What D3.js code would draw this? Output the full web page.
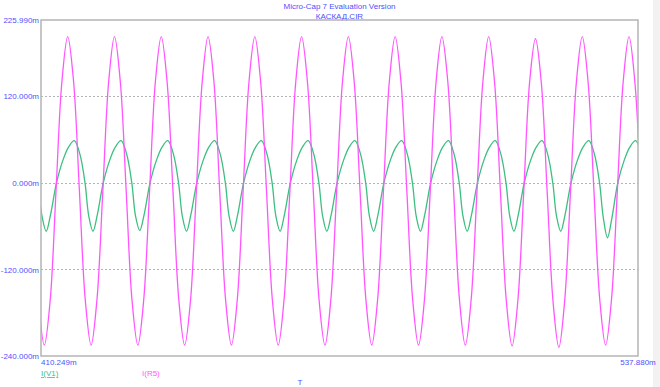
<!DOCTYPE html>
<html>
<head>
<meta charset="utf-8">
<script src="https://cdn.jsdelivr.net/npm/d3@7"></script>
<style>
  body { margin: 0; background: #fff; }
  text { font-family: "Liberation Sans", Arial, sans-serif; }
</style>
</head>
<body>
<svg id="chart" width="660" height="387"></svg>
<script>
// title lines
var titles = ["Micro-Cap 7 Evaluation Version", "КАСКАД.CIR"];

// x range (ms) and y ticks (mA)
var timeRange = [410.249, 537.880];
var yTicks = [-240, -120, 0, 120, 225.99];
var gridValues = [-120, 0, 120];

// I(R5): samples every 1.25 ms starting at 409.71 ms
var r5Start = 409.71;
var r5Step = 1.25;
var r5Values = [
  -162, -225, -163, -11, 140, 203, 141, -11,
  -162, -225, -162, -12, 140, 203, 140, -11,
  -163, -225, -162, -11, 141, 203, 140, -11,
  -162, -225, -163, -11, 140, 203, 141, -12,
  -162, -225, -162, -11, 140, 203, 140, -11,
  -162, -225, -162, -11, 140, 203, 140, -11,
  -163, -225, -162, -11, 141, 203, 140, -11,
  -162, -225, -162, -11, 140, 203, 140, -11,
  -162, -225, -163, -12, 140, 203, 141, -11,
  -162, -225, -162, -11, 140, 203, 140, -11,
  -162, -226, -162, -11, 140, 200, 139, -12,
  -164, -228, -163, -11, 140, 203, 140, -11,
  -162, -225, -162, -11, 140, 203, 140, -11
];

// I(V1): key points (ms, mA)
var v1Time = [
  409.66, 410.46,
  411.36, 412.26, 413.56, 414.96, 416.16, 417.36, 418.56, 419.66, 420.46,
  421.36, 422.26, 423.56, 424.96, 426.16, 427.36, 428.56, 429.66, 430.46,
  431.36, 432.26, 433.56, 434.96, 436.16, 437.36, 438.56, 439.66, 440.46,
  441.36, 442.26, 443.56, 444.96, 446.16, 447.36, 448.56, 449.66, 450.46,
  451.36, 452.26, 453.56, 454.96, 456.16, 457.36, 458.56, 459.66, 460.46,
  461.36, 462.26, 463.56, 464.96, 466.16, 467.36, 468.56, 469.66, 470.46,
  471.36, 472.26, 473.56, 474.96, 476.16, 477.36, 478.56, 479.66, 480.46,
  481.36, 482.26, 483.56, 484.96, 486.16, 487.36, 488.56, 489.66, 490.46,
  491.36, 492.26, 493.56, 494.96, 496.16, 497.36, 498.56, 499.66, 500.46,
  501.36, 502.26, 503.56, 504.96, 506.16, 507.36, 508.56, 509.66, 510.46,
  511.36, 512.26, 513.56, 514.96, 516.16, 517.36, 518.56, 519.66, 520.46,
  521.36, 522.26, 523.56, 524.96, 526.16, 527.36, 528.56, 529.66, 530.46,
  531.36, 532.26, 533.56, 534.96, 536.16, 537.36, 538.56
];
var v1Values = [
  0, -46,
  -67, -45, 0, 32, 50, 58.6, 40, 0, -46,
  -67, -45, 0, 32, 50, 58.6, 40, 0, -46,
  -66, -45, 0, 32, 50, 58.6, 40, 0, -46,
  -67, -45, 0, 32, 50, 58.6, 40, 0, -46,
  -67, -45, 0, 32, 50, 58.6, 40, 0, -46,
  -67, -45, 0, 32, 50, 58.6, 40, 0, -46,
  -67, -45, 0, 32, 50, 58.6, 40, 0, -46,
  -67, -45, 0, 32, 50, 58.6, 40, 0, -46,
  -67, -45, 0, 32, 50, 58.6, 40, 0, -46,
  -67, -45, 0, 32, 50, 58.6, 40, 0, -46,
  -67, -45, 0, 32, 50, 58.6, 40, 0, -46,
  -67, -45, 0, 32, 50, 58.6, 40, 0, -48,
  -76, -50, 0, 32, 50, 58.6, 40
];

var textColor = "#4f4fff";
var r5Color = "#ff55ff";
var v1Color = "#3cbf80";
var fontSize = "8px";

var svg = d3.select("#chart");
var plotL = 41, plotT = 20, plotR = 638, plotB = 356;

var x = d3.scaleLinear().domain(timeRange).range([plotL, plotR]);
var y = d3.scaleLinear().domain([-240, 225.99]).range([plotB, plotT]);

// light strip at right edge
svg.append("rect").attr("x", 653).attr("y", 0).attr("width", 7).attr("height", 387).attr("fill", "#f2f2f2");

// title
svg.selectAll(".title").data(titles).enter().append("text")
  .attr("x", (plotL + plotR) / 2)
  .attr("y", (d, i) => 9 + i * 10)
  .attr("text-anchor", "middle")
  .attr("font-size", fontSize)
  .attr("fill", textColor)
  .text(d => d);

// grid
svg.selectAll(".grid").data(gridValues).enter().append("line")
  .attr("x1", plotL).attr("x2", plotR)
  .attr("y1", d => Math.round(y(d)) + 0.5).attr("y2", d => Math.round(y(d)) + 0.5)
  .attr("stroke", "#b4b4b4")
  .attr("stroke-dasharray", "2,2");

// y labels
var yAxis = d3.axisLeft(y).tickValues(yTicks).tickSize(0).tickPadding(2)
  .tickFormat(d => d.toFixed(3) + "m");
var ya = svg.append("g").attr("transform", `translate(${plotL},0)`).call(yAxis);
ya.select(".domain").remove();
ya.selectAll("text").attr("fill", textColor).attr("font-size", fontSize)
  .attr("font-family", "'Liberation Sans', Arial, sans-serif");

// clip
svg.append("clipPath").attr("id", "clip").append("rect")
  .attr("x", plotL).attr("y", plotT).attr("width", plotR - plotL).attr("height", plotB - plotT);

var r5Data = r5Values.map((v, i) => [r5Start + i * r5Step, v]);
var v1Data = v1Values.map((v, i) => [v1Time[i], v]);

var line = d3.line().x(d => x(d[0])).y(d => y(d[1])).curve(d3.curveCatmullRom.alpha(0.5));

var plot = svg.append("g").attr("clip-path", "url(#clip)");
plot.append("path").datum(v1Data).attr("d", line)
  .attr("fill", "none").attr("stroke", v1Color).attr("stroke-width", 1.3);
plot.append("path").datum(r5Data).attr("d", line)
  .attr("fill", "none").attr("stroke", r5Color).attr("stroke-width", 1.3);

// frame
svg.append("rect").attr("x", plotL).attr("y", plotT).attr("width", plotR - plotL).attr("height", plotB - plotT)
  .attr("fill", "none").attr("stroke", "#b4b4b4").attr("stroke-width", 1.5);

// x labels
svg.append("text").attr("x", plotL).attr("y", 365).attr("font-size", fontSize).attr("fill", textColor)
  .text(timeRange[0].toFixed(3) + "m");
svg.append("text").attr("x", plotR).attr("y", 365).attr("text-anchor", "middle").attr("font-size", fontSize)
  .attr("fill", textColor).text(timeRange[1].toFixed(3) + "m");

// legend
svg.append("text").attr("x", plotL).attr("y", 376).attr("font-size", fontSize).attr("fill", v1Color)
  .attr("text-decoration", "underline").text("I(V1)");
svg.append("text").attr("x", 142).attr("y", 376).attr("font-size", fontSize).attr("fill", r5Color)
  .text("I(R5)");
svg.append("text").attr("x", 300).attr("y", 385).attr("text-anchor", "middle").attr("font-size", fontSize)
  .attr("fill", textColor).text("T");
</script>
</body>
</html>
